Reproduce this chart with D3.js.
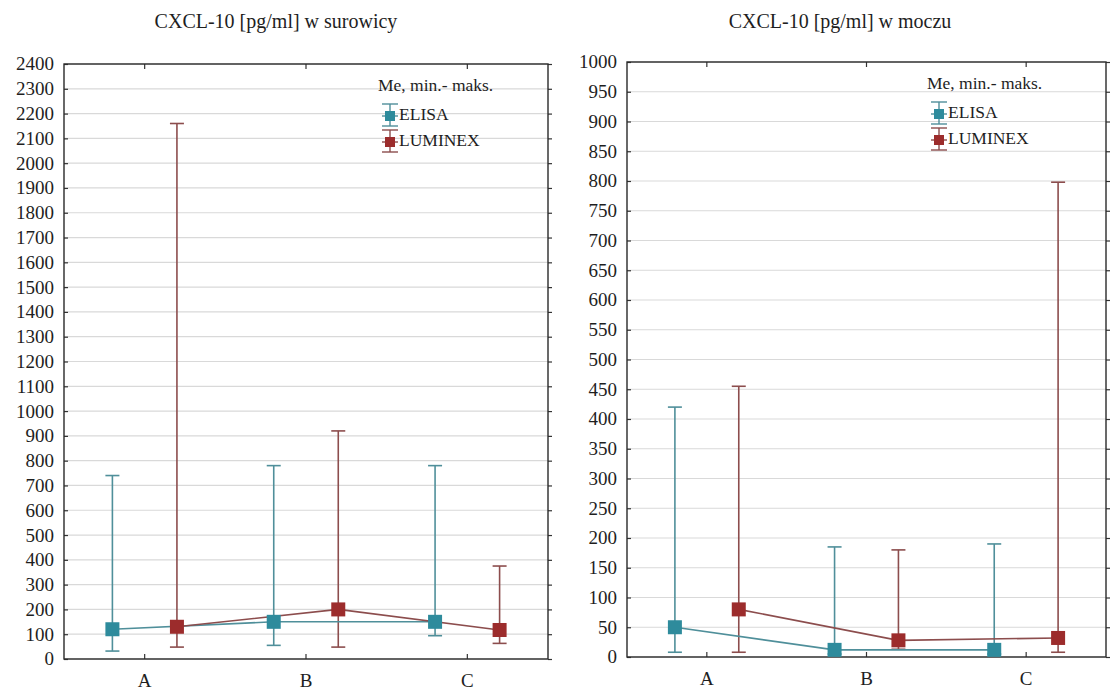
<!DOCTYPE html>
<html>
<head>
<meta charset="utf-8">
<script src="https://cdn.jsdelivr.net/npm/d3@7"></script>
<style>
  body { margin: 0; background: #fff; }
</style>
</head>
<body>
<div id="container"></div>
<script>
'use strict';

const w = 1110;
const h = 691;
const serif = '"Liberation Serif", "Times New Roman", "DejaVu Serif", serif';

// data
const categories = ['A', 'B', 'C'];
const seriesNames = ['ELISA', 'LUMINEX'];

const serumElisaMed = [120, 150, 150];
const serumElisaMin = [32, 55, 94];
const serumElisaMax = [740, 780, 780];
const serumLuminexMed = [130, 200, 117];
const serumLuminexMin = [48, 48, 63];
const serumLuminexMax = [2160, 920, 375];
const serumTicks = d3.range(0, 2401, 100);

const urineElisaMed = [50, 12, 12];
const urineElisaMin = [8, 5, 5];
const urineElisaMax = [420, 185, 190];
const urineLuminexMed = [80, 28, 32];
const urineLuminexMin = [8, 13, 8];
const urineLuminexMax = [455, 180, 798];
const urineTicks = d3.range(0, 1001, 50);

const colors = {
    ELISA: { mark: '#2e8b9c', line: '#4f8f9a' },
    LUMINEX: { mark: '#9c2c2c', line: '#8c4d4d' }
};

const svg = d3.select('#container')
    .append('svg')
    .attr('width', w)
    .attr('height', h)
    .attr('font-family', serif);

function toRows(med, min, max) {
    return categories.map((c, i) => ({ cat: c, med: med[i], min: min[i], max: max[i] }));
}

function label(sel, size) {
    return sel.style('font-family', serif)
        .style('font-size', size + 'px')
        .attr('fill', '#1e1e1e');
}

function drawPanel(p) {
    const g = svg.append('g');

    const x = d3.scaleBand()
        .domain(categories)
        .range([p.left, p.right]);
    const y = d3.scaleLinear()
        .domain([0, d3.max(p.ticks)])
        .range([p.bottom, p.top]);
    const off = x.bandwidth() * 0.2;

    g.append('text')
        .attr('x', p.titleX)
        .attr('y', 28)
        .attr('text-anchor', 'middle')
        .call(label, 20)
        .text(p.title);

    // grid
    g.append('g')
        .selectAll('line')
        .data(p.ticks)
        .enter()
        .append('line')
        .attr('x1', p.left)
        .attr('x2', p.right)
        .attr('y1', (d) => y(d))
        .attr('y2', (d) => y(d))
        .attr('stroke', '#d9d9d9')
        .attr('stroke-width', 1.2);

    // axes (ticks only, frame drawn below)
    g.append('g')
        .attr('transform', 'translate(' + p.left + ',0)')
        .call(d3.axisRight(y).tickValues(p.ticks).tickSize(4).tickFormat(''));
    g.append('g')
        .attr('transform', 'translate(' + p.right + ',0)')
        .call(d3.axisRight(y).tickValues(p.ticks).tickSize(4).tickFormat(''));
    g.append('g')
        .attr('transform', 'translate(0,' + p.bottom + ')')
        .call(d3.axisTop(x).tickSize(5).tickFormat(''));
    g.append('g')
        .attr('transform', 'translate(0,' + p.top + ')')
        .call(d3.axisBottom(x).tickSize(5).tickFormat(''));
    g.selectAll('.domain').remove();
    g.selectAll('.tick line').attr('stroke', '#333').attr('stroke-width', 1.2);

    g.append('g')
        .selectAll('text')
        .data(p.ticks)
        .enter()
        .append('text')
        .attr('x', p.left - 10)
        .attr('y', (d) => y(d))
        .attr('dy', '0.34em')
        .attr('text-anchor', 'end')
        .call(label, 19)
        .text((d) => d);

    g.append('g')
        .selectAll('text')
        .data(categories)
        .enter()
        .append('text')
        .attr('x', (d) => x(d) + x.bandwidth() / 2)
        .attr('y', p.bottom + 28)
        .attr('text-anchor', 'middle')
        .call(label, 19)
        .text((d) => d);

    g.append('rect')
        .attr('x', p.left)
        .attr('y', p.top)
        .attr('width', p.right - p.left)
        .attr('height', p.bottom - p.top)
        .attr('fill', 'none')
        .attr('stroke', '#2a2a2a')
        .attr('stroke-width', 1.4);

    const line = d3.line()
        .x((d) => d.px)
        .y((d) => y(d.med));

    p.series.forEach((s, si) => {
        const rows = s.rows.map((r) => Object.assign({}, r, {
            px: x(r.cat) + x.bandwidth() / 2 + (si === 0 ? -off : off)
        }));
        const c = colors[s.name];
        const sg = g.append('g');

        // whiskers min - max
        sg.selectAll('line.wh')
            .data(rows)
            .enter()
            .append('line')
            .attr('class', 'wh')
            .attr('x1', (d) => d.px)
            .attr('x2', (d) => d.px)
            .attr('y1', (d) => y(d.min))
            .attr('y2', (d) => y(d.max))
            .attr('stroke', c.line)
            .attr('stroke-width', 1.6);
        ['min', 'max'].forEach((k) => {
            sg.selectAll('line.cap-' + k)
                .data(rows)
                .enter()
                .append('line')
                .attr('class', 'cap-' + k)
                .attr('x1', (d) => d.px - 7)
                .attr('x2', (d) => d.px + 7)
                .attr('y1', (d) => y(d[k]))
                .attr('y2', (d) => y(d[k]))
                .attr('stroke', c.line)
                .attr('stroke-width', 1.6);
        });

        s.placed = rows;
    });

    p.series.forEach((s) => {
        g.append('path')
            .datum(s.placed)
            .attr('d', line)
            .attr('fill', 'none')
            .attr('stroke', colors[s.name].line)
            .attr('stroke-width', 1.6);
    });

    p.series.forEach((s) => {
        g.append('g')
            .selectAll('rect')
            .data(s.placed)
            .enter()
            .append('rect')
            .attr('x', (d) => d.px - 7)
            .attr('y', (d) => y(d.med) - 7)
            .attr('width', 14)
            .attr('height', 14)
            .attr('fill', colors[s.name].mark);
    });

    // legend
    const lg = g.append('g')
        .attr('transform', 'translate(' + p.legendX + ',' + (p.top + 21) + ')');
    lg.append('text')
        .attr('x', 0)
        .attr('y', 0)
        .attr('dy', '0.34em')
        .call(label, 17.5)
        .text('Me, min.- maks.');
    seriesNames.forEach((name, i) => {
        const cy = 29 + i * 26;
        const c = colors[name];
        const ix = 12;
        lg.append('line')
            .attr('x1', ix).attr('x2', ix)
            .attr('y1', cy - 10).attr('y2', cy + 12)
            .attr('stroke', c.line).attr('stroke-width', 1.4);
        [cy - 10, cy + 2, cy + 12].forEach((yy) => {
            lg.append('line')
                .attr('x1', ix - 8).attr('x2', ix + 8)
                .attr('y1', yy).attr('y2', yy)
                .attr('stroke', c.line).attr('stroke-width', 1.4);
        });
        lg.append('rect')
            .attr('x', ix - 5).attr('y', cy - 3)
            .attr('width', 10).attr('height', 10)
            .attr('fill', c.mark);
        lg.append('text')
            .attr('x', ix + 9)
            .attr('y', cy)
            .attr('dy', '0.34em')
            .call(label, 17.5)
            .text(name);
    });
}

drawPanel({
    title: 'CXCL-10 [pg/ml] w surowicy',
    titleX: 276,
    left: 64, right: 548, top: 64, bottom: 659,
    ticks: serumTicks,
    legendX: 378,
    series: [
        { name: 'ELISA', rows: toRows(serumElisaMed, serumElisaMin, serumElisaMax) },
        { name: 'LUMINEX', rows: toRows(serumLuminexMed, serumLuminexMin, serumLuminexMax) }
    ]
});

drawPanel({
    title: 'CXCL-10 [pg/ml] w moczu',
    titleX: 840,
    left: 627, right: 1106, top: 62, bottom: 657,
    ticks: urineTicks,
    legendX: 927,
    series: [
        { name: 'ELISA', rows: toRows(urineElisaMed, urineElisaMin, urineElisaMax) },
        { name: 'LUMINEX', rows: toRows(urineLuminexMed, urineLuminexMin, urineLuminexMax) }
    ]
});
</script>
</body>
</html>
